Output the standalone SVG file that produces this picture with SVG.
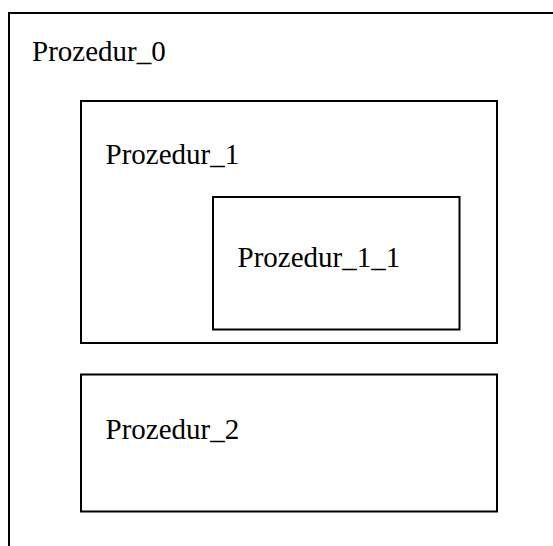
<svg xmlns="http://www.w3.org/2000/svg" width="553" height="546" viewBox="0 0 553 546">
<style>
.box{fill:none;stroke:#000;stroke-width:2}
.lbl{font-family:"Liberation Serif","Times New Roman",serif;font-size:29px;fill:#000}
</style>
<rect width="553" height="546" fill="#fff"/>
<g id="prozedur_0">
<rect class="box" x="9" y="13" width="600" height="600"/>
<text class="lbl" x="32" y="61">Prozedur_0</text>
</g>
<g id="prozedur_1">
<rect class="box" x="81" y="101" width="416" height="242"/>
<text class="lbl" x="105.5" y="164">Prozedur_1</text>
</g>
<g id="prozedur_1_1">
<rect class="box" x="213" y="197" width="246.5" height="132.5"/>
<text class="lbl" x="237.5" y="267">Prozedur_1_1</text>
</g>
<g id="prozedur_2">
<rect class="box" x="81" y="374.5" width="416" height="137"/>
<text class="lbl" x="105.5" y="439">Prozedur_2</text>
</g>
<g id="connectors"></g>
</svg>
